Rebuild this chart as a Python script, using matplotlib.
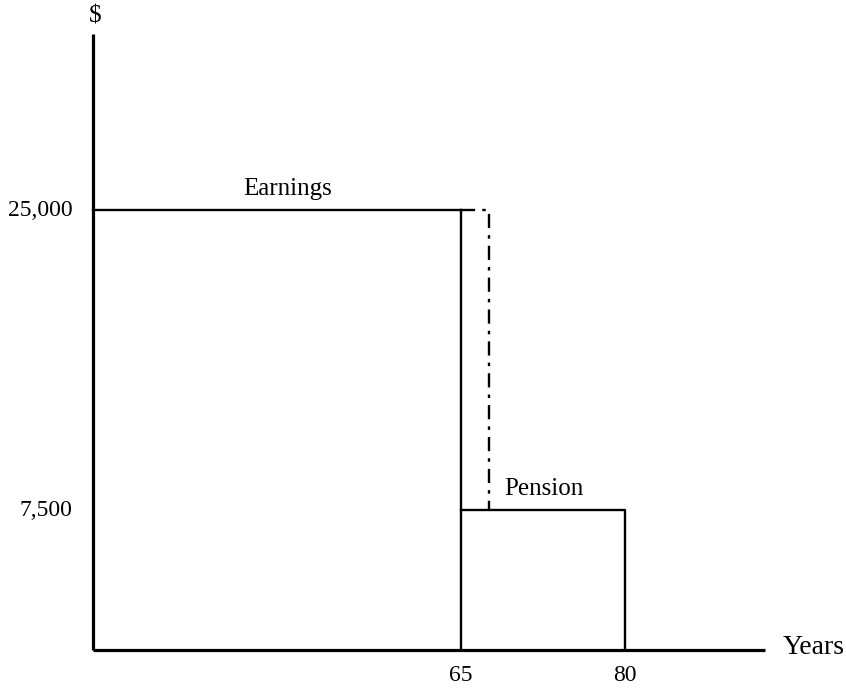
import matplotlib
matplotlib.use("Agg")
import matplotlib.pyplot as plt

plt.rcParams['font.family'] = ['Liberation Serif', 'DejaVu Serif']

# Data (schematic)
start_age = 31.3
retire_age = 65
deferred_age = 67.5
death_age = 80
axis_end_age = 92.8
earnings = 25000
pension = 7500
y_bottom = -670
y_top = 35300
tick_ages = [65, 80]
tick_age_labels = ["65", "80"]
tick_vals = [25000, 7500]
tick_val_labels = ["25,000", "7,500"]

W, H = 846, 688
fig = plt.figure(figsize=(W / 100, H / 100), dpi=100)
left, right, bottom_px, top_px = 93, 765, 650, 34
ax = fig.add_axes([left / W, (H - bottom_px) / H, (right - left) / W, (bottom_px - top_px) / H])
ax.set_xlim(start_age, axis_end_age)
ax.set_ylim(y_bottom, y_top)
ax.axis('off')

lw_axis = 2.3
lw = 1.7
# axes
ax.plot([start_age, start_age], [y_bottom, y_top], color='black', lw=lw_axis, clip_on=False, solid_capstyle='butt')
ax.plot([start_age, axis_end_age], [y_bottom, y_bottom], color='black', lw=lw_axis, clip_on=False, solid_capstyle='butt')
# earnings
ax.plot([start_age, retire_age], [earnings, earnings], color='black', lw=lw, clip_on=False)
ax.plot([retire_age, retire_age], [y_bottom, earnings], color='black', lw=lw, clip_on=False)
# dash-dot deferred
ax.plot([retire_age, deferred_age, deferred_age], [earnings, earnings, pension],
        color='black', lw=lw, linestyle=(0, (6, 3, 1.5, 3)), clip_on=False)
# pension box
ax.plot([retire_age, death_age, death_age], [pension, pension, y_bottom], color='black', lw=lw, clip_on=False)

fs = 18
ax.text(49.1, earnings + 600, "Earnings", ha='center', va='bottom', fontsize=fs)
ax.text(72.6, pension + 600, "Pension", ha='center', va='bottom', fontsize=fs)

for v, lab in zip(tick_vals, tick_val_labels):
    ax.text(start_age - 1.9, v, lab, ha='right', va='center', fontsize=17)
for a, lab in zip(tick_ages, tick_age_labels):
    ax.text(a, y_bottom - 900, lab, ha='center', va='top', fontsize=17)

ax.text(axis_end_age + 1.6, y_bottom + 150, "Years", ha='left', va='center', fontsize=20)
fig.text(95 / W, 1 - 27 / H, "$", ha='center', va='bottom', fontsize=fs)

fig.savefig("out.png", dpi=100, facecolor='white')
